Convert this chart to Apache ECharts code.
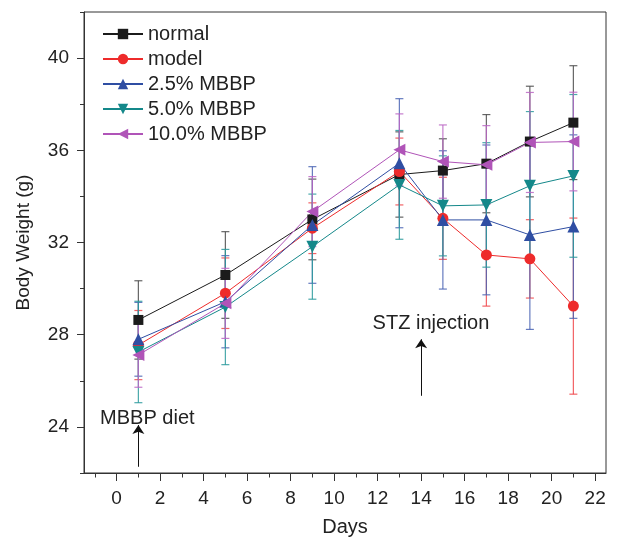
<!DOCTYPE html>
<html><head><meta charset="utf-8">
<script src="https://cdn.jsdelivr.net/npm/echarts@6/dist/echarts.min.js"></script>
<style>html,body{margin:0;padding:0;background:#fff}#c{width:617px;height:537px}</style>
</head><body><div id="c"></div>
<script>
const days = [1, 5, 9, 13, 15, 17, 19, 21];
const groupNames = ['normal', 'model', '2.5% MBBP', '5.0% MBBP', '10.0% MBBP'];
const normalMean = [28.64, 30.59, 33.0, 34.95, 35.12, 35.42, 36.38, 37.2];
const normalSD   = [1.7, 1.88, 1.75, 1.85, 1.38, 2.13, 2.4, 2.47];
const modelMean  = [27.55, 29.8, 32.62, 35.08, 33.05, 31.46, 31.29, 29.24];
const modelSD    = [1.5, 1.53, 1.1, 1.45, 1.78, 2.22, 1.7, 3.82];
const mbbp25Mean = [27.8, 29.43, 32.76, 35.44, 32.98, 32.98, 32.33, 32.69];
const mbbp25SD   = [1.6, 2.0, 2.53, 2.8, 3.0, 3.25, 4.1, 3.98];
const mbbp50Mean = [27.25, 29.2, 31.82, 34.5, 33.59, 33.63, 34.46, 34.89];
const mbbp50SD   = [2.2, 2.5, 2.28, 2.36, 2.17, 2.7, 3.22, 3.53];
const mbbp10Mean = [27.12, 29.36, 33.34, 36.02, 35.51, 35.37, 36.34, 36.38];
const mbbp10SD   = [1.4, 1.52, 1.52, 1.56, 1.59, 1.7, 2.17, 2.14];
const xTickLabels = [0, 2, 4, 6, 8, 10, 12, 14, 16, 18, 20, 22];
const yTickLabels = [24, 28, 32, 36, 40];
const xRange = [-1.5, 22.5];
const yRange = [22, 42];
const annotations = [
  {text: 'MBBP diet', at: [-0.76, 24.38], arrowFrom: [1, 22.27], arrowTo: [1, 24.08]},
  {text: 'STZ injection', at: [11.77, 28.5], arrowFrom: [14, 25.35], arrowTo: [14, 27.8]}
];

const means = [normalMean, modelMean, mbbp25Mean, mbbp50Mean, mbbp10Mean];
const sds = [normalSD, modelSD, mbbp25SD, mbbp50SD, mbbp10SD];
const colors = ['#1b1b1b', '#ee2b2b', '#2f4ea3', '#14888a', '#b054b8'];
const barColors = ['#4a4a4a', '#f0474a', '#4a64b4', '#2a9a9c', '#bb66c4'];
const symbols = ['rect', 'circle', 'triangle', 'triangle', 'triangle'];
const symRot = [0, 0, 0, 180, 90];
const symSize = [10, 11, 12, 12, 12];
const FONT = 'Liberation Sans, Arial, sans-serif';

const xCats = [];
for (let v = xRange[0]; v <= xRange[1] + 1e-9; v += 0.5) xCats.push(String(v));
const yCats = [];
for (let v = yRange[0]; v <= yRange[1] + 1e-9; v += 2) yCats.push(String(v));
const isInt = s => Number.isInteger(Number(s));
const isXMajor = s => xTickLabels.indexOf(Number(s)) >= 0;
const isYMajor = s => yTickLabels.indexOf(Number(s)) >= 0;

const series = [];
groupNames.forEach((name, i) => {
  series.push({
    name: 'err' + i, type: 'custom', xAxisIndex: 0, yAxisIndex: 0, z: 1,
    silent: true, clip: false,
    data: days.map((d, k) => [d, means[i][k], sds[i][k]]),
    encode: {x: 0, y: 1},
    renderItem: (params, api) => {
      const x = api.value(0), m = api.value(1), s = api.value(2);
      const t = api.coord([x, m + s]), b = api.coord([x, m - s]);
      const hw = 4;
      const st = {stroke: barColors[i], lineWidth: 1.2, opacity: 0.85};
      return {type: 'group', children: [
        {type: 'line', shape: {x1: t[0], y1: t[1], x2: b[0], y2: b[1]}, style: st},
        {type: 'line', shape: {x1: t[0] - hw, y1: t[1], x2: t[0] + hw, y2: t[1]}, style: st},
        {type: 'line', shape: {x1: b[0] - hw, y1: b[1], x2: b[0] + hw, y2: b[1]}, style: st}
      ]};
    }
  });
});
groupNames.forEach((name, i) => {
  const s = {
    name: name, type: 'line', xAxisIndex: 0, yAxisIndex: 0, z: 3,
    data: days.map((d, k) => [d, means[i][k]]),
    symbol: symbols[i], symbolSize: symSize[i], symbolRotate: symRot[i],
    showAllSymbol: true,
    itemStyle: {color: colors[i]},
    lineStyle: {color: colors[i], width: 1},
    emphasis: {disabled: true},
    animation: false
  };
  if (i === 0) {
    s.markLine = {
      silent: true, symbol: ['none', 'arrow'], symbolSize: 9,
      lineStyle: {color: '#111', width: 1, type: 'solid'},
      label: {show: false},
      emphasis: {disabled: true},
      data: annotations.map(a => [{coord: a.arrowFrom, symbol: 'none'}, {coord: a.arrowTo, symbol: 'arrow', symbolSize: 9}])
    };
  }
  series.push(s);
});

const chart = echarts.init(document.getElementById('c'));
const option = {
  animation: false,
  backgroundColor: '#fff',
  textStyle: {fontFamily: FONT},
  grid: {left: 84, right: 11, top: 12, bottom: 64, show: true, borderColor: '#333', borderWidth: 1,
         containLabel: false, outerBoundsMode: 'none'},
  legend: {
    data: groupNames, orient: 'vertical', left: 97, top: 19,
    itemWidth: 40, itemHeight: 13, itemGap: 5,
    textStyle: {fontSize: 20, color: '#222', fontFamily: FONT}
  },
  xAxis: [
    {type: 'value', min: xRange[0], max: xRange[1], axisLine: {show: true, onZero: false, lineStyle: {color: '#333'}},
     axisTick: {show: false}, axisLabel: {show: false}, splitLine: {show: false}},
    {type: 'category', data: xCats, boundaryGap: false, position: 'bottom', axisLine: {show: false, onZero: false},
     axisTick: {show: true, length: 4.5, interval: (idx, v) => isInt(v), lineStyle: {color: '#333'}},
     axisLabel: {show: false}, splitLine: {show: false}},
    {type: 'category', data: xCats, boundaryGap: false, position: 'bottom', axisLine: {show: false, onZero: false},
     axisTick: {show: true, length: 8, interval: (idx, v) => isXMajor(v), lineStyle: {color: '#333'}},
     axisLabel: {show: true, interval: (idx, v) => isXMajor(v), fontSize: 19, color: '#222', margin: 16, fontFamily: FONT},
     splitLine: {show: false},
     name: 'Days', nameLocation: 'middle', nameGap: 44,
     nameTextStyle: {fontSize: 20, color: '#222', fontFamily: FONT}}
  ],
  yAxis: [
    {type: 'value', min: yRange[0], max: yRange[1], interval: 2, axisLine: {show: true, onZero: false, lineStyle: {color: '#333'}},
     axisTick: {show: false}, axisLabel: {show: false}, splitLine: {show: false},
     name: 'Body Weight (g)', nameLocation: 'middle', nameGap: 51,
     nameTextStyle: {fontSize: 19, color: '#222', fontFamily: FONT}},
    {type: 'category', data: yCats, boundaryGap: false, position: 'left', axisLine: {show: false, onZero: false},
     axisTick: {show: true, length: 4, interval: (idx, v) => !isYMajor(v), lineStyle: {color: '#333'}},
     axisLabel: {show: false}, splitLine: {show: false}},
    {type: 'category', data: yCats, boundaryGap: false, position: 'left', axisLine: {show: false, onZero: false},
     axisTick: {show: true, length: 7, interval: (idx, v) => isYMajor(v), lineStyle: {color: '#333'}},
     axisLabel: {show: true, interval: (idx, v) => isYMajor(v), fontSize: 19, color: '#222', margin: 15, fontFamily: FONT},
     splitLine: {show: false}}
  ],
  series: series
};
chart.setOption(option);
const graphics = annotations.map(a => {
  const p = chart.convertToPixel({xAxisIndex: 0, yAxisIndex: 0}, a.at);
  return {type: 'text', x: p[0], y: p[1], z: 10,
    style: {text: a.text, fontSize: 20, fill: '#222', fontFamily: FONT, verticalAlign: 'middle', align: 'left'}};
});
chart.setOption({graphic: graphics});
</script></body></html>
